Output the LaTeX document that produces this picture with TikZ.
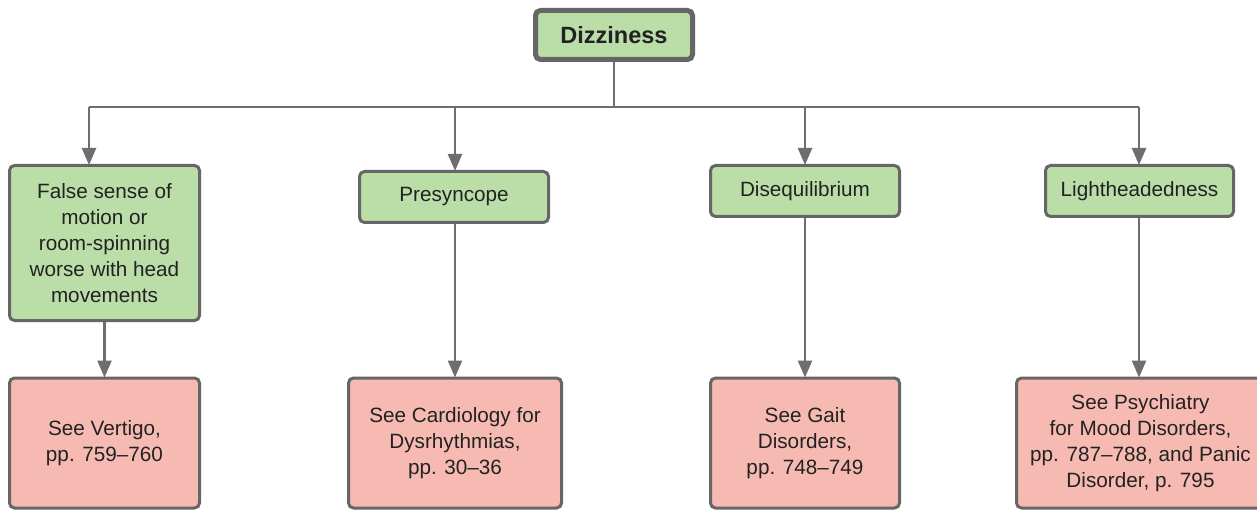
\documentclass[tikz,border=0pt]{standalone}
\usepackage{fontspec}
\setmainfont{Liberation Sans}
\usetikzlibrary{arrows.meta}
\definecolor{boxgreen}{HTML}{BBDDA8}
\definecolor{boxpink}{HTML}{F7BAB2}
\definecolor{edgegray}{HTML}{666666}
\definecolor{linegray}{HTML}{6E6E6E}
\definecolor{txt}{HTML}{222222}
\begin{document}
\begin{tikzpicture}[x=1pt,y=-1pt,
  basebox/.style={draw=edgegray, line width=3pt, rounded corners=5pt, align=center,
    text=txt, font=\fontsize{20.7}{26}\selectfont, inner sep=0pt},
  greenbox/.style={basebox, fill=boxgreen},
  pinkbox/.style={basebox, fill=boxpink},
  topbox/.style={greenbox, line width=5pt, font=\fontsize{23.5}{26}\selectfont\bfseries},
  link/.style={draw=linegray, line width=2.5pt},
  arr/.style={link, -{Triangle[length=17pt,width=14pt]}, shorten >=-1pt}
]
\clip (0,0) rectangle (1257,510);
\useasboundingbox (0,0) rectangle (1257,510);
\fill[white] (0,0) rectangle (1257,510);

% top node
\node[topbox, minimum width=157pt, minimum height=49pt] (diz) at (614,35) {Dizziness};

% second row
\node[greenbox, minimum width=190pt, minimum height=155pt] (vert) at (104.5,243) {False sense of\\motion or\\room-spinning\\worse with head\\movements};
\node[greenbox, minimum width=189pt, minimum height=51pt] (pre) at (454,197) {Presyncope};
\node[greenbox, minimum width=189pt, minimum height=51pt] (dis) at (805,191) {Disequilibrium};
\node[greenbox, minimum width=188pt, minimum height=51pt] (light) at (1139.5,191) {Lightheadedness};

% referral row
\node[pinkbox, minimum width=190pt, minimum height=130pt] (r1) at (104.5,443) {See Vertigo,\\pp. 759–760};
\node[pinkbox, minimum width=213pt, minimum height=130pt] (r2) at (455,443) {See Cardiology for\\Dysrhythmias,\\pp. 30–36};
\node[pinkbox, minimum width=189pt, minimum height=130pt] (r3) at (805,443) {See Gait\\Disorders,\\pp. 748–749};
\node[pinkbox, minimum width=248pt, minimum height=130pt] (r4) at (1140.5,443) {See Psychiatry\\for Mood Disorders,\\pp. 787–788, and Panic\\Disorder, p. 795};

% branching connectors
\coordinate (bus) at (614,107);
\draw[link] (diz.south) -- (bus);
\draw[link] (89,107) -- (1139,107);
\draw[arr] (89,107) -- (89,164);
\draw[arr] (455,107) -- (pre.north -| 455,0);
\draw[arr] (805,107) -- (dis.north);
\draw[arr] (1139,107) -- (light.north -| 1139,0);

\draw[arr] (vert.south) -- (r1.north);
\draw[arr] (pre.south -| 455,0) -- (r2.north -| 455,0);
\draw[arr] (dis.south) -- (r3.north);
\draw[arr] (light.south -| 1139,0) -- (r4.north -| 1139,0);
\end{tikzpicture}
\end{document}
